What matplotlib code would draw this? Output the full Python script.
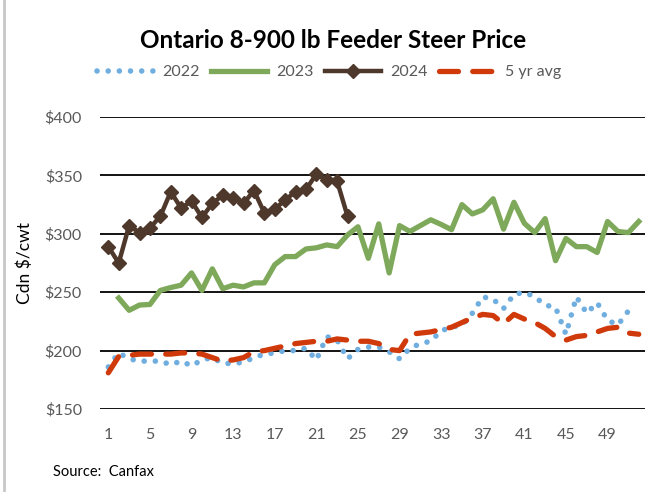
import matplotlib
matplotlib.use("Agg")
import matplotlib.pyplot as plt
from matplotlib.lines import Line2D
import numpy as np

plt.rcParams['font.family'] = ['Lato', 'DejaVu Sans']

# weekly prices, Cdn $/cwt (nan = no data)
weeks = np.arange(1, 53)
y2022 = [186, 198, 193, 191, 191, 191, 188, 191, 187, 192,
         194, 189, 189, 190, 194, 197, 198, 200, 200, 202,
         192, 212, 209, 193, 201, 203, 203, 199, 193, 202,
         206, 208, 217, 220, 222, 232, 246, 244, 236, 248,
         250, 246, 239, 237, 214, 246, 232, 241, 226, 222,
         234, np.nan]
y2023 = [np.nan, 245, 234.5, 239, 239.5, 251.5, 254, 256, 266.5, 251.5,
         270, 253, 256, 254.5, 258, 258, 273.5, 280.5, 280.5, 287,
         288, 290.5, 289, 299, 306, 279, 308.5, 266.5, 307, 302,
         307, 312, 308, 303.5, 325, 317, 320.5, 330, 304, 327,
         309, 301, 313, 277, 296, 289, 289, 284, 310.5, 302,
         301, 310.5]
y2024 = [289, 275, 307, 301, 305, 315, 336, 322, 328, 314,
         326, 333, 331, 326, 337, 318, 321, 329, 336, 338,
         351, 346, 345, 315] + [np.nan] * 28
avg5 = [181, 195, 196, 197, 197, 197, 197, 198, 198, 197,
        194, 191, 192, 194, 199, 200, 202, 204, 206, 207,
        208, 208, 210, 209, 208, 208, 206, 201, 200, 214,
        215, 216, 218, 220, 224, 228, 231, 230, 223, 231,
        227, 224, 219, 212, 209, 212, 213, 216, 219, 220,
        215, 214]

yticks = [150, 200, 250, 300, 350, 400]
xticks = list(range(1, 53, 4))

fig = plt.figure(figsize=(6.63, 4.92), dpi=100)
ax = fig.add_axes([100/663, 1 - 409/492, 545/663, 292/492])

l22, = ax.plot(weeks, y2022, color='#6FAEDF', lw=4.0, dashes=(0.01, 2.0),
               dash_capstyle='round', label='2022')
l23, = ax.plot(weeks, y2023, color='#7EA95A', lw=3.8, label='2023')
l24, = ax.plot(weeks, y2024, color='#4E372B', lw=3.2, marker='D', markersize=7,
               label='2024')
lav, = ax.plot(weeks, avg5, color='#D03A0A', lw=3.8, dashes=(3.6, 2.7),
               dash_capstyle='round', label='5 yr avg')

ax.set_xlim(0.2, 52.6)
ax.set_ylim(150, 400)
ax.set_yticks(yticks)
ax.set_yticklabels([f"${v}" for v in yticks])
ax.set_xticks(xticks)
ax.set_xticklabels([str(v) for v in xticks])
ax.yaxis.grid(True, color='black', lw=1.3)
ax.set_axisbelow(True)
for s in ax.spines.values():
    s.set_visible(False)
ax.tick_params(axis='both', length=0, labelsize=11.5, colors='#595959')
ax.tick_params(axis='x', pad=14)
ax.tick_params(axis='y', pad=13)

fig.text(25/663, 1 - 263/492, 'Cdn $/cwt', rotation=90, ha='center', va='center',
         fontsize=12.5, color='black')
fig.text(333/663, 1 - 40/492, 'Ontario 8-900 lb Feeder Steer Price', ha='center',
         va='center', fontsize=17.5, fontweight='bold')
fig.text(53/663, 1 - 472/492, 'Source:  Canfax', ha='left', va='center', fontsize=10.5)

leg = fig.legend(handles=[l22, l23, l24, lav], loc='center', ncol=4,
                 bbox_to_anchor=(329/663, 1 - 72/492), frameon=False,
                 handlelength=3.5, handletextpad=0.6, columnspacing=0.7,
                 fontsize=11.5)
for t in leg.get_texts():
    t.set_color('#595959')

fig.add_artist(Line2D([4/663, 4/663], [0, 1], color='#C8C8C8', lw=2,
                      transform=fig.transFigure))

fig.savefig('out.png', dpi=100)
